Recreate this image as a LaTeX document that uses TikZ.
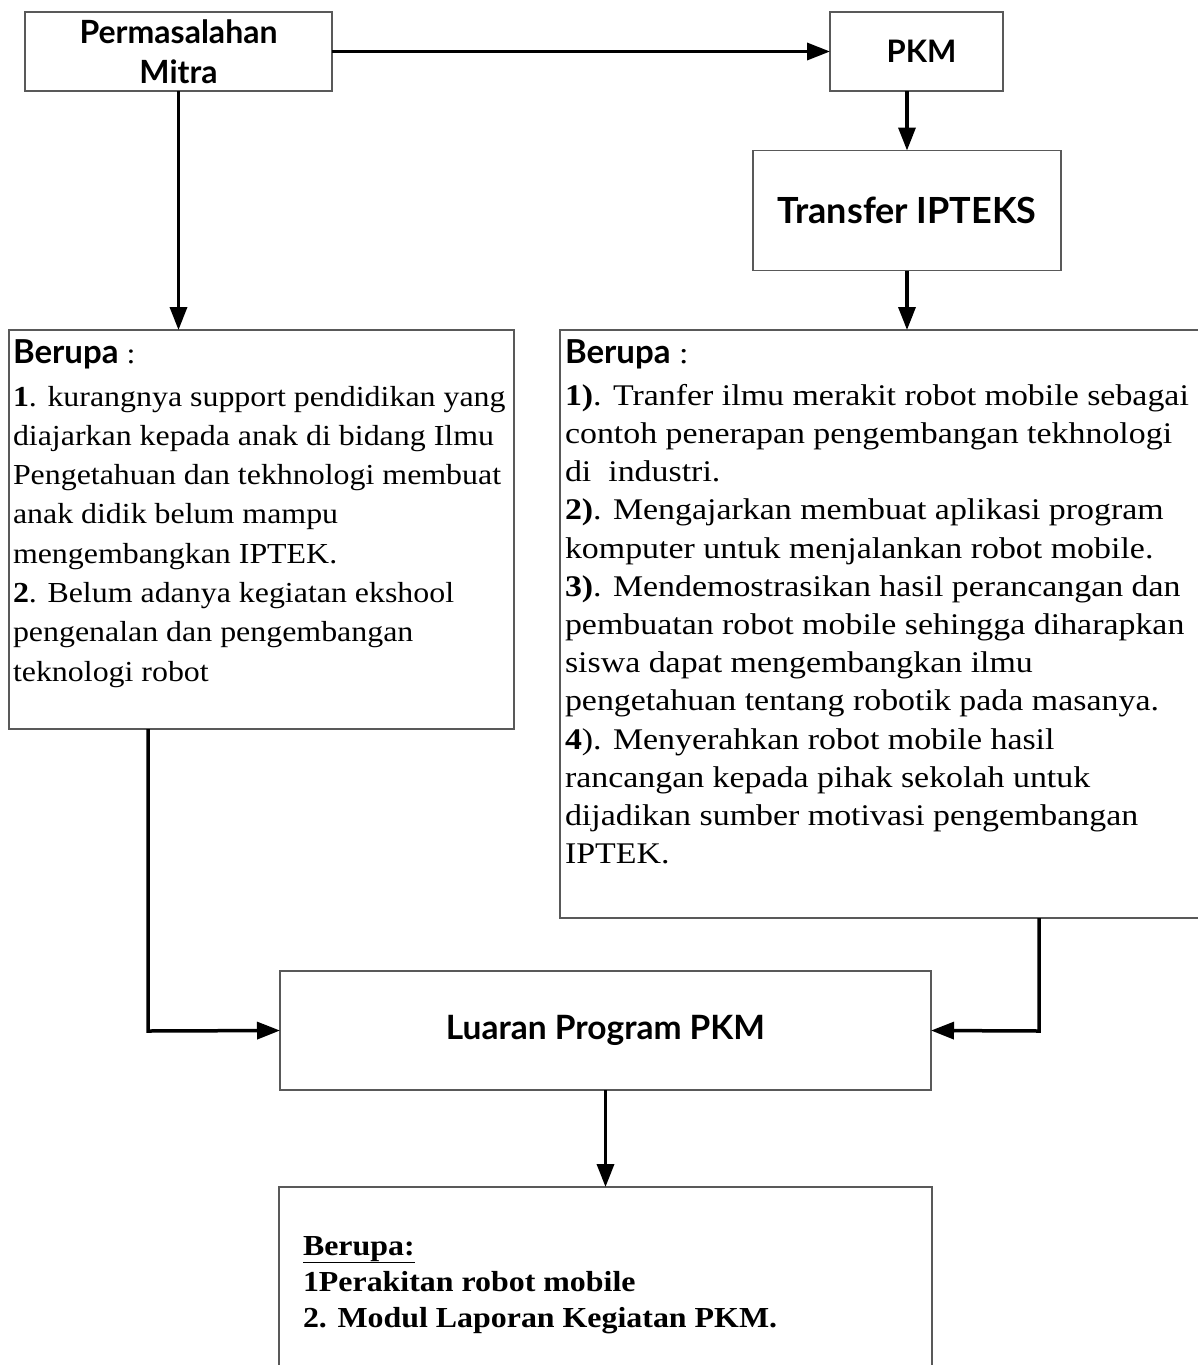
\documentclass[tikz,border=0pt]{standalone}
\usepackage{fontspec}
\usetikzlibrary{arrows.meta}
\newfontfamily\ttlfont{Lato}
\newfontfamily\bodyfont{Liberation Serif}[FakeStretch=1.1]
\newfontfamily\rbodyfont{Liberation Serif}[FakeStretch=1.13]
\newcommand{\ttlsize}[1]{\ttlfont\bfseries\fontsize{#1}{40pt}\selectfont}
\newcommand{\berupalbl}{{\ttlfont\bfseries\fontsize{33pt}{38pt}\selectfont Berupa}}
\tikzset{
  box/.style={draw=black!65, line width=1.5pt, inner sep=0pt, outer sep=0pt, rectangle},
  ttl/.style={align=center},
  txt/.style={inner sep=0pt, outer sep=0pt, align=left, anchor=north west},
  arr/.style={line width=3.5pt, draw=black, -{Triangle[length=23pt,width=17pt]}},
}
\begin{document}
\begin{tikzpicture}[x=1pt,y=-1pt]
\useasboundingbox (0,0) rectangle (1198,1365);
% boxes
\node[box, ttl, font=\ttlsize{32pt}, minimum width=307pt, minimum height=79pt] (perm) at (178.5,51.5) {Permasalahan\\Mitra};
\node[box, ttl, font=\ttlsize{31pt}, minimum width=173pt, minimum height=79pt] (pkm) at (916.5,51.5) {\hspace*{10pt}PKM};
\node[box, ttl, font=\ttlsize{36pt}, minimum width=308pt, minimum height=120pt] (transfer) at (907,210.5) {Transfer IPTEKS};
\node[box, minimum width=505pt, minimum height=399pt] (leftbox) at (261.5,529.5) {};
\node[box, minimum width=650pt, minimum height=588pt] (rightbox) at (885,624) {};
\node[box, ttl, font=\ttlsize{33.5pt}, minimum width=651pt, minimum height=119pt] (luaran) at (605.5,1030.5) {Luaran Program PKM};
\node[box, minimum width=653pt, minimum height=213pt] (hasil) at (605.5,1293.5) {};
% texts
\node[txt, font=\bodyfont\fontsize{29pt}{39.3pt}\selectfont] (ltxt) at (13,335.5) {%
\strut\berupalbl{} :\\[3.7pt]
\textbf{1}. kurangnya support pendidikan yang\\
diajarkan kepada anak di bidang Ilmu\\
Pengetahuan dan tekhnologi membuat\\
anak didik belum mampu\\
mengembangkan IPTEK.\\
\textbf{2}. Belum adanya kegiatan ekshool\\
pengenalan dan pengembangan\\
teknologi robot};
\node[txt, font=\rbodyfont\fontsize{30pt}{38.2pt}\selectfont] (rtxt) at (565,336.5) {%
\strut\berupalbl{} :\\[3.8pt]
\textbf{1)}. Tranfer ilmu merakit robot mobile sebagai\\
contoh penerapan pengembangan tekhnologi\\
di\ \ industri.\\
\textbf{2)}. Mengajarkan membuat aplikasi program\\
komputer untuk menjalankan robot mobile.\\
\textbf{3)}. Mendemostrasikan hasil perancangan dan\\
pembuatan robot mobile sehingga diharapkan\\
siswa dapat mengembangkan ilmu\\
pengetahuan tentang robotik pada masanya.\\
\textbf{4}). Menyerahkan robot mobile hasil\\
rancangan kepada pihak sekolah untuk\\
dijadikan sumber motivasi pengembangan\\
IPTEK.};
\node[txt, font=\bodyfont\bfseries\fontsize{29pt}{36pt}\selectfont] (htxt) at (303,1229.8) {%
\strut\underline{Berupa:}\\
1Perakitan robot mobile\\
2. Modul Laporan Kegiatan PKM.};
% connectors
\coordinate (ljoin) at (148,1031);
\coordinate (rjoin) at (1039,1031);
\draw[arr] (perm.east) -- (pkm.west);
\draw[arr] (transfer.north |- pkm.south) -- (transfer.north);
\draw[arr] (transfer.south) -- (transfer.south |- rightbox.north);
\draw[arr] (perm.south) -- (perm.south |- leftbox.north);
\draw[arr] (ljoin |- leftbox.south) -- (ljoin) -- (luaran.west);
\draw[arr] (rjoin |- rightbox.south) -- (rjoin) -- (luaran.east);
\draw[arr] (luaran.south) -- (hasil.north);
\end{tikzpicture}
\end{document}
